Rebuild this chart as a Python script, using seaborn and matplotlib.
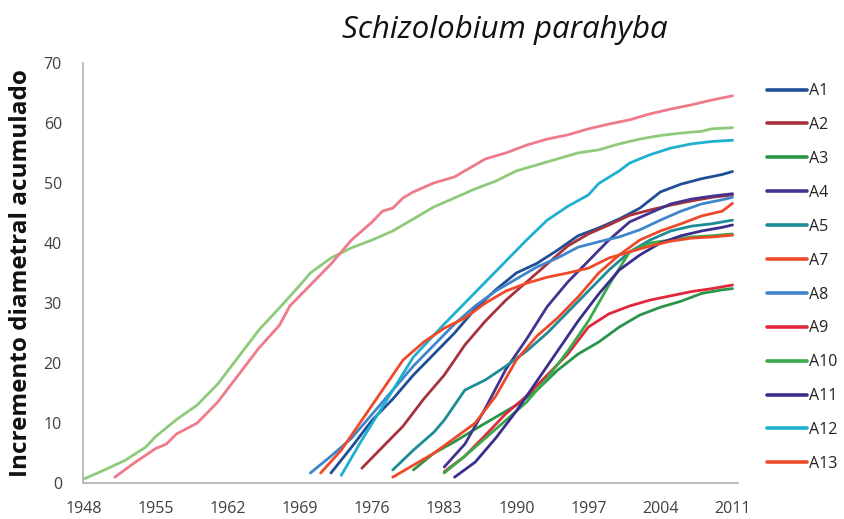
import matplotlib
matplotlib.use("Agg")
import matplotlib.pyplot as plt
from matplotlib.lines import Line2D
import seaborn as sns
import pandas as pd

# ---------------- data ----------------
years_A1 = [1972, 1974, 1976, 1978, 1980, 1982, 1984, 1986, 1988, 1990, 1992, 1994, 1996, 1998, 2000, 2002, 2004, 2006, 2008, 2010, 2011]
vals_A1 = [1.7, 6.0, 10.5, 14.0, 18.0, 21.5, 25.0, 29.0, 32.2, 35.0, 36.6, 38.8, 41.2, 42.5, 44.0, 45.8, 48.5, 49.8, 50.7, 51.4, 51.9]

years_A2 = [1975, 1977, 1979, 1981, 1983, 1985, 1987, 1989, 1991, 1993, 1995, 1997, 1999, 2001, 2003, 2005, 2007, 2009, 2011]
vals_A2 = [2.5, 6.0, 9.5, 14.0, 18.0, 23.0, 27.0, 30.5, 33.5, 36.5, 39.5, 41.5, 43.0, 44.6, 45.5, 46.3, 47.0, 47.6, 48.0]

years_A3 = [1980, 1982, 1984, 1986, 1988, 1990, 1992, 1994, 1996, 1998, 2000, 2002, 2004, 2006, 2008, 2010, 2011]
vals_A3 = [2.2, 5.0, 6.9, 9.0, 11.0, 13.0, 15.5, 18.8, 21.5, 23.5, 26.0, 28.0, 29.3, 30.3, 31.6, 32.2, 32.4]

years_A4 = [1983, 1985, 1987, 1989, 1991, 1993, 1995, 1997, 1999, 2001, 2003, 2005, 2007, 2009, 2011]
vals_A4 = [2.7, 6.5, 12.5, 19.0, 24.0, 29.4, 33.5, 37.0, 40.5, 43.5, 45.0, 46.5, 47.3, 47.8, 48.2]

years_A5 = [1978, 1980, 1982, 1983, 1984, 1985, 1987, 1989, 1991, 1993, 1995, 1997, 1999, 2001, 2003, 2005, 2007, 2009, 2011]
vals_A5 = [2.2, 5.5, 8.5, 10.5, 13.0, 15.5, 17.2, 19.5, 22.0, 25.0, 28.5, 32.0, 35.5, 38.5, 40.5, 42.0, 42.8, 43.2, 43.8]

years_A7 = [1978, 1980, 1982, 1984, 1986, 1988, 1990, 1992, 1994, 1996, 1998, 2000, 2002, 2004, 2006, 2008, 2010, 2011]
vals_A7 = [1.0, 3.0, 5.0, 7.5, 10.0, 14.5, 20.5, 24.5, 27.5, 31.0, 35.0, 38.0, 40.5, 42.0, 43.2, 44.5, 45.3, 46.6]

years_A8 = [1970, 1972, 1974, 1976, 1978, 1980, 1982, 1984, 1986, 1988, 1990, 1992, 1994, 1996, 1998, 2000, 2002, 2004, 2006, 2008, 2010, 2011]
vals_A8 = [1.7, 4.5, 7.5, 11.5, 15.5, 19.5, 23.0, 26.5, 29.5, 32.0, 34.0, 36.0, 37.5, 39.3, 40.2, 41.0, 42.2, 43.8, 45.3, 46.5, 47.2, 47.6]

years_A9 = [1983, 1985, 1987, 1989, 1991, 1993, 1995, 1997, 1999, 2001, 2003, 2005, 2007, 2009, 2011]
vals_A9 = [1.9, 4.5, 8.0, 11.6, 14.5, 18.0, 21.5, 26.0, 28.2, 29.5, 30.5, 31.2, 31.9, 32.4, 33.0]

years_A10 = [1983, 1985, 1987, 1989, 1991, 1993, 1995, 1997, 1999, 2001, 2003, 2005, 2007, 2009, 2011]
vals_A10 = [1.7, 4.5, 7.5, 10.5, 13.5, 17.5, 22.0, 27.0, 33.0, 38.5, 40.0, 40.5, 41.0, 41.2, 41.5]

years_A11 = [1984, 1986, 1988, 1990, 1992, 1994, 1996, 1998, 2000, 2002, 2004, 2006, 2008, 2010, 2011]
vals_A11 = [1.0, 3.5, 7.5, 12.0, 17.0, 22.0, 27.0, 31.5, 35.5, 38.0, 40.0, 41.2, 42.0, 42.6, 43.0]

years_A12 = [1973, 1975, 1977, 1980, 1983, 1985, 1987, 1989, 1991, 1993, 1995, 1997, 1998, 2000, 2001, 2003, 2005, 2007, 2009, 2011]
vals_A12 = [1.3, 7.2, 12.7, 21.0, 26.5, 30.0, 33.5, 37.0, 40.5, 43.8, 46.1, 48.0, 49.9, 52.0, 53.3, 54.7, 55.8, 56.5, 56.9, 57.1]

years_A13 = [1971, 1973, 1975, 1977, 1979, 1981, 1983, 1985, 1987, 1989, 1991, 1993, 1995, 1997, 1999, 2001, 2003, 2005, 2007, 2009, 2011]
vals_A13 = [1.7, 5.5, 10.5, 15.5, 20.5, 23.5, 25.8, 27.5, 30.0, 32.0, 33.3, 34.3, 35.0, 35.8, 37.5, 38.5, 39.5, 40.3, 40.8, 41.0, 41.3]

# two long-lived trees drawn without legend entries
years_pink = [1951, 1953, 1955, 1956, 1957, 1959, 1961, 1963, 1965, 1967, 1968, 1970, 1972, 1974, 1976, 1977, 1978, 1979, 1980, 1982, 1984, 1986, 1987, 1989, 1991, 1993, 1995, 1997, 1999, 2001, 2003, 2005, 2007, 2009, 2011]
vals_pink = [1.0, 3.5, 5.8, 6.5, 8.2, 10.0, 13.5, 18.0, 22.5, 26.3, 29.5, 33.0, 36.5, 40.5, 43.5, 45.3, 45.8, 47.5, 48.5, 50.0, 51.0, 53.0, 54.0, 55.0, 56.3, 57.3, 58.0, 59.0, 59.8, 60.5, 61.5, 62.3, 63.0, 63.8, 64.5]

years_lgreen = [1948, 1950, 1952, 1954, 1955, 1957, 1959, 1961, 1963, 1965, 1967, 1969, 1970, 1972, 1974, 1976, 1978, 1980, 1982, 1984, 1986, 1988, 1990, 1992, 1994, 1996, 1998, 2000, 2002, 2004, 2006, 2008, 2009, 2011]
vals_lgreen = [0.7, 2.2, 3.8, 6.0, 7.8, 10.6, 13.0, 16.5, 21.0, 25.5, 29.2, 33.0, 35.0, 37.5, 39.2, 40.5, 42.0, 44.0, 46.0, 47.5, 49.0, 50.3, 52.0, 53.0, 54.0, 55.0, 55.5, 56.5, 57.3, 57.9, 58.3, 58.6, 59.0, 59.2]

series_names = ["A1", "A2", "A3", "A4", "A5", "A7", "A8", "A9", "A10", "A11", "A12", "A13"]
series_years = [years_A1, years_A2, years_A3, years_A4, years_A5, years_A7, years_A8, years_A9, years_A10, years_A11, years_A12, years_A13]
series_vals = [vals_A1, vals_A2, vals_A3, vals_A4, vals_A5, vals_A7, vals_A8, vals_A9, vals_A10, vals_A11, vals_A12, vals_A13]
series_colors = ["#1F4E96", "#A8323C", "#2A9448", "#45338F", "#1E8C96", "#EE4A2A",
                 "#3F86CC", "#E0283C", "#3AAA4A", "#3A2E8C", "#1FB0D0", "#EE4A2A"]

xticks = [1948, 1955, 1962, 1969, 1976, 1983, 1990, 1997, 2004, 2011]
yticks = [0, 10, 20, 30, 40, 50, 60, 70]

# ---------------- build table ----------------
rows = []
for name, ys, vs in zip(series_names, series_years, series_vals):
    for y, v in zip(ys, vs):
        rows.append({"year": y, "value": v, "tree": name})
df = pd.DataFrame(rows)
df_pink = pd.DataFrame({"year": years_pink, "value": vals_pink})
df_lgreen = pd.DataFrame({"year": years_lgreen, "value": vals_lgreen})

# ---------------- plot ----------------
sns.set_theme(style="white")
plt.rcParams["font.family"] = ["Open Sans", "DejaVu Sans"]

fig = plt.figure(figsize=(8.45, 5.19), dpi=100)
ax = fig.add_axes([0.098, 0.069, 0.775, 0.81])

lw = 2.0
sns.lineplot(data=df_lgreen, x="year", y="value", color="#8DCB7A", linewidth=lw, ax=ax, legend=False)
sns.lineplot(data=df_pink, x="year", y="value", color="#EE7A8A", linewidth=lw, ax=ax, legend=False)
palette = dict(zip(series_names, series_colors))
sns.lineplot(data=df, x="year", y="value", hue="tree", hue_order=series_names,
             palette=palette, linewidth=lw, ax=ax, legend=False, estimator=None, sort=True)

ax.set_xlim(1947.9, 2011.5)
ax.set_ylim(0, 70)
ax.set_xticks(xticks)
ax.set_xticklabels([str(t) for t in xticks])
ax.set_yticks(yticks)
ax.tick_params(axis="both", length=0, labelsize=11.5, colors="#404040")
ax.tick_params(axis="x", pad=13)
ax.tick_params(axis="y", pad=15)
for s in ["top", "right"]:
    ax.spines[s].set_visible(False)
for s in ["left", "bottom"]:
    ax.spines[s].set_color("#B8B8B8")
    ax.spines[s].set_linewidth(1.3)

ax.set_xlabel("")
ax.set_ylabel("Incremento diametral acumulado", fontsize=17.5, fontweight="bold",
              color="#111111", labelpad=8)
fig.text(0.598, 0.942, "Schizolobium parahyba", fontsize=22.5, style="italic",
         ha="center", va="center", color="#111111")

handles = [Line2D([0], [0], color=c, linewidth=2.6) for c in series_colors]
leg = fig.legend(handles, series_names, loc="upper left", bbox_to_anchor=(0.9, 0.852),
                 frameon=False, fontsize=11.5, handlelength=2.5, handletextpad=0.15,
                 labelspacing=1.12, borderaxespad=0)
for t in leg.get_texts():
    t.set_color("#222222")

fig.savefig("out.png", dpi=100)
